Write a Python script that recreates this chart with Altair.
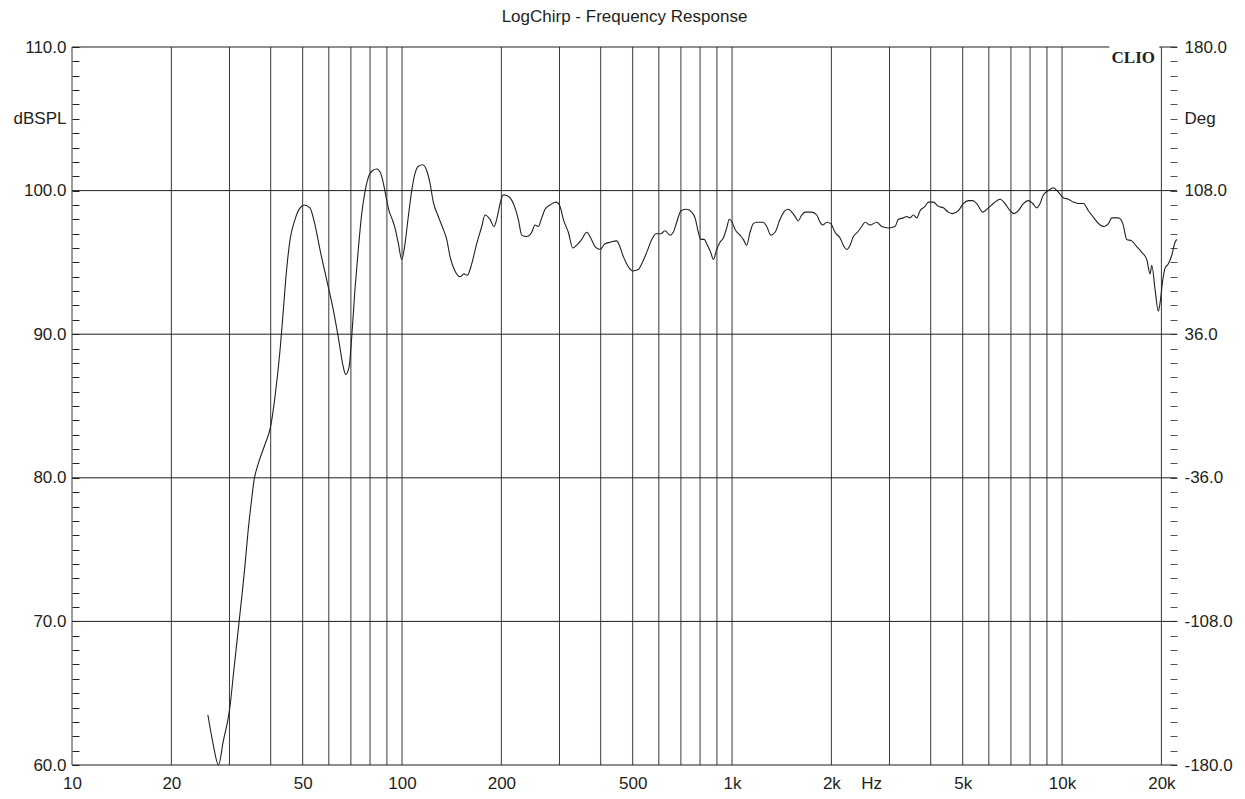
import altair as alt
import pandas as pd

# Frequency response curve (Hz, dBSPL)
freq = [25.8, 26.7, 27.8, 28.7, 30.0, 31.0, 32.1, 33.4, 34.2, 34.9, 35.6, 36.7, 38.4, 40.0, 41.2,
        42.7, 43.7, 44.7, 45.8, 47.4, 49.1, 50.6, 52.6, 54.5, 56.4, 59.1, 61.9, 64.1, 66.4, 67.5,
        69.1, 70.4, 72.0, 73.7, 75.5, 77.2, 79.0, 81.5, 83.8, 86.2, 88.2, 89.9, 91.3, 93.4, 95.2,
        97.5, 99.8, 102.1, 104.5, 107.0, 109.5, 112.1, 115.5, 118.8, 121.6, 124.4, 128.8, 133.4,
        136.6, 139.8, 144.7, 149.9, 154.1, 157.7, 162.6, 168.4, 174.4, 178.4, 184.8, 190.0, 194.5,
        198.2, 202.8, 209.9, 217.4, 225.1, 230.5, 238.7, 247.2, 252.9, 258.8, 265.0, 271.2, 280.9,
        292.9, 301.2, 308.2, 319.1, 329.1, 338.4, 350.4, 362.9, 373.1, 384.5, 398.1, 412.3, 426.9,
        447.3, 455.5, 468.4, 485.1, 500.1, 520.1, 532.6, 551.5, 571.1, 588.5, 608.1, 626.6, 648.8,
        663.9, 679.8, 700.6, 728.9, 754.9, 772.5, 790.5, 803.9, 822.6, 841.8, 862.0, 877.6, 898.6,
        919.5, 941.0, 963.6, 981.3, 1005, 1021, 1057, 1082, 1108, 1134, 1160, 1188, 1244, 1274,
        1310, 1350, 1398, 1447, 1481, 1517, 1552, 1588, 1626, 1664, 1744, 1806, 1848, 1883, 1936,
        1991, 2052, 2125, 2185, 2227, 2279, 2332, 2398, 2472, 2529, 2620, 2745, 2842, 2976, 3118,
        3191, 3304, 3384, 3462, 3543, 3628, 3713, 3845, 3934, 4074, 4219, 4368, 4523, 4664, 4851,
        5022, 5201, 5363, 5515, 5752, 5982, 6192, 6488, 6719, 6958, 7154, 7373, 7634, 7905, 8151,
        8381, 8578, 8776, 9088, 9410, 9745, 10090, 10450, 10820, 11210, 11600, 12020, 12590, 13040,
        13410, 13820, 14150, 14820, 15280, 15710, 16260, 16840, 17440, 18060, 18480, 18700, 19140,
        19580, 19820, 20200, 20520, 21000, 21500, 22000, 22260]
spl = [63.5, 61.6, 60.0, 61.6, 63.8, 66.8, 70.0, 73.8, 76.4, 78.2, 79.8, 81.0, 82.3, 83.6, 85.6,
       88.9, 91.7, 94.5, 96.6, 98.0, 98.8, 99.0, 98.8, 97.6, 95.9, 93.8, 91.7, 89.8, 87.7, 87.2,
       87.7, 89.8, 93.1, 95.9, 98.4, 99.9, 100.9, 101.4, 101.5, 101.2, 100.3, 99.3, 98.6, 98.0, 97.4,
       96.3, 95.2, 96.3, 98.2, 100.0, 101.2, 101.7, 101.8, 101.4, 100.5, 99.2, 98.2, 97.3,
       96.6, 95.4, 94.4, 94.0, 94.2, 94.1, 94.9, 96.3, 97.5, 98.3, 98.0, 97.5, 98.2,
       99.1, 99.7, 99.6, 99.1, 98.0, 96.9, 96.8, 97.1, 97.6, 97.5, 98.1, 98.7, 99.0,
       99.2, 98.9, 98.0, 97.1, 96.0, 96.2, 96.6, 97.1, 96.7, 96.1, 95.9, 96.3, 96.4,
       96.5, 96.2, 95.4, 94.7, 94.4, 94.5, 94.9, 95.7, 96.6, 97.0, 97.0, 97.2, 96.9,
       97.1, 97.8, 98.6, 98.7, 98.5, 98.1, 97.1, 96.6, 96.6, 96.2, 95.7, 95.2, 95.9,
       96.4, 96.7, 97.4, 98.0, 97.7, 97.3, 96.9, 96.6, 96.2, 97.1, 97.7, 97.8, 97.8, 97.5,
       96.9, 97.1, 98.0, 98.6, 98.7, 98.5, 98.2, 97.9, 98.3, 98.5, 98.5, 98.3, 97.8, 97.6, 97.8,
       97.7, 97.1, 96.7, 96.1, 95.9, 96.2, 96.8, 97.1, 97.5, 97.8, 97.6, 97.8, 97.5, 97.4, 97.5,
       98.0, 98.1, 98.2, 98.1, 98.3, 98.1, 98.6, 98.9, 99.2, 99.2, 98.9, 98.8, 98.5, 98.4, 98.6,
       99.1, 99.3, 99.3, 99.1, 98.5, 98.8, 99.1, 99.4, 99.1, 98.6, 98.4, 98.6, 99.1, 99.3, 99.1,
       98.8, 99.1, 99.7, 100.0, 100.2, 99.9, 99.5, 99.4, 99.2, 99.1, 99.1, 98.6, 98.0, 97.6,
       97.5, 97.7, 98.1, 98.1, 97.7, 96.6, 96.5, 96.1, 95.7, 95.2, 94.2, 94.8, 93.1,
       91.6, 92.2, 93.8, 94.6, 94.9, 95.5, 96.4, 96.6]

grid_freqs = [10, 20, 30, 40, 50, 60, 70, 80, 90, 100, 200, 300, 400, 500, 600, 700, 800, 900,
              1000, 2000, 3000, 4000, 5000, 6000, 7000, 8000, 9000, 10000, 20000]
grid_db = [60, 70, 80, 90, 100, 110]
x_label_values = [10, 20, 50, 100, 200, 500, 1000, 2000, 2640, 5000, 10000, 20000]
left_tick_values = list(range(60, 111))
right_tick_values = [round(-180 + 7.2 * i, 1) for i in range(51)]
deg_range = [-180, 180]

INK = "#231f20"
GRID = "#3c3636"
FONT = "Liberation Sans"

xscale = alt.Scale(type="log", domain=[10, 22300], nice=False)
yscale = alt.Scale(domain=[60, 110], nice=False, zero=False)

x_axis = alt.Axis(
    values=x_label_values, title=None, grid=False, domain=False, ticks=False,
    labelExpr="datum.value == 2640 ? 'Hz' : (datum.value >= 1000 ? (datum.value / 1000) + 'k' : '' + datum.value)",
    labelFontSize=17, labelFont=FONT, labelColor=INK, labelPadding=10,
    labelFlush=False, labelOverlap=False, labelBound=False,
)
y_axis = alt.Axis(
    orient="left", values=left_tick_values, title=None, grid=False, domain=False,
    tickSize=7, offset=-7, tickColor=INK, tickWidth=1,
    labelExpr="datum.value % 10 == 0 ? datum.value + '.0' : (datum.value == 105 ? 'dBSPL' : '')",
    labelFontSize=17, labelFont=FONT, labelColor=INK, labelPadding=6,
    labelOverlap=False, labelFlush=False, labelBound=False,
)

curve_df = pd.DataFrame({"f": freq, "db": spl})
vgrid_df = pd.DataFrame({"f": grid_freqs})
hgrid_df = pd.DataFrame({"db": grid_db})
logo_df = pd.DataFrame({"f": [19130], "db": [109.25], "t": ["CLIO"]})
gap_df = pd.DataFrame({"f": [13900], "f2": [19700], "db": [109.6], "db2": [110.4]})
deg_df = pd.DataFrame({"deg": deg_range})

X = alt.X("f:Q", scale=xscale, axis=x_axis)
Y = alt.Y("db:Q", scale=yscale, axis=y_axis)

vgrid = alt.Chart(vgrid_df).mark_rule(color=GRID, strokeWidth=1).encode(x=X)
hgrid = alt.Chart(hgrid_df).mark_rule(color=INK, strokeWidth=1).encode(y=Y)
gap = alt.Chart(gap_df).mark_rect(color="white").encode(x=X, x2="f2:Q", y=Y, y2="db2:Q")
logo = alt.Chart(logo_df).mark_text(
    font="Liberation Serif", fontWeight="bold", fontSize=17, align="right",
    baseline="middle", color=INK
).encode(x=X, y=Y, text="t:N")
curve = alt.Chart(curve_df).mark_line(color=INK, strokeWidth=1.1, interpolate="monotone").encode(
    x=X, y=Y, order=alt.Order("f:Q"),
)

inner = alt.layer(vgrid, hgrid, gap, curve, logo)

right_axis = alt.Axis(
    orient="right", values=right_tick_values, title=None, grid=False, domain=False,
    tickSize=7, offset=-7, tickColor="#555050", tickWidth=1,
    labelExpr="(abs(datum.value + 180) % 72 < 0.01 || abs(datum.value + 180) % 72 > 71.99) ? datum.value + '.0' : (abs(datum.value - 144) < 0.01 ? 'Deg' : '')",
    labelFontSize=17, labelFont=FONT, labelColor=INK, labelPadding=7,
    labelOverlap=False, labelFlush=False, labelBound=False,
)
right = alt.Chart(deg_df).mark_rule(opacity=0).encode(
    y=alt.Y("deg:Q", scale=alt.Scale(domain=[-180, 180], nice=False, zero=False), axis=right_axis)
)

chart = alt.layer(inner, right).resolve_scale(y="independent").properties(
    width=1105, height=718,
    autosize=alt.AutoSizeParams(type="none"),
    padding={"left": 64, "top": 39, "right": 56, "bottom": 26},
    title=alt.TitleParams(
        "LogChirp - Frequency Response", fontSize=17, font=FONT, fontWeight="normal",
        color=INK, anchor="middle", frame="group", offset=12,
    ),
    background="white",
).configure_view(stroke=None)

chart.save("out.html", embed_options={"renderer": "svg", "actions": False})
